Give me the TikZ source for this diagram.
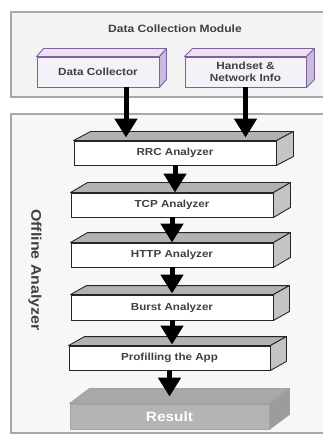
\documentclass[tikz,border=0pt]{standalone}
\usepackage{fontspec}
\newfontfamily\lab{Liberation Sans}[FakeStretch=1.14]
\usetikzlibrary{arrows.meta}
\definecolor{txt}{HTML}{404040}
\definecolor{pborder}{HTML}{7E62A0}
\definecolor{pfront}{HTML}{F5F1F9}
\definecolor{ptop}{HTML}{EAE2F2}
\definecolor{pside}{HTML}{C9BBDC}
\definecolor{gtop}{HTML}{B2B2B2}
\definecolor{gside}{HTML}{C4C4C4}
\definecolor{rfront}{HTML}{B4B4B4}
\definecolor{rtop}{HTML}{A8A8A8}
\definecolor{rside}{HTML}{9C9C9C}
\definecolor{rborder}{HTML}{A2A2A2}
\definecolor{cfill}{HTML}{F3F3F3}
\definecolor{cfillb}{HTML}{F7F7F7}
\definecolor{cborder}{HTML}{A8A8A8}
\newcommand\depthfaces[6]{% node, dx, dy(up), top colour, side colour, border colour
  \draw[line width=0.9pt, draw=#6, fill=#4, line join=round] (#1.north west) -- ++(#2,-#3) -- ([shift={(#2,-#3)}]#1.north east) -- (#1.north east) -- cycle;
  \draw[line width=0.9pt, draw=#6, fill=#5, line join=round] (#1.north east) -- ([shift={(#2,-#3)}]#1.north east) -- ([shift={(#2,-#3)}]#1.south east) -- (#1.south east) -- cycle;}
\begin{document}
\begin{tikzpicture}[x=1pt,y=-1pt,
  container/.style={draw=cborder, line width=1.1pt},
  purplebox/.style={draw=pborder, fill=pfront, line width=0.9pt, text=txt, inner sep=0pt,
    minimum height=30pt, font=\lab\bfseries\fontsize{10.3}{12.5}\selectfont, align=center},
  anabox/.style={draw=black!85, fill=white, line width=0.9pt, text=txt, inner sep=0pt,
    minimum height=24pt, font=\lab\bfseries\fontsize{10.2}{12}\selectfont},
  resbox/.style={draw=rborder, fill=rfront, line width=0.9pt, text=white, inner sep=0pt,
    minimum height=25pt, font=\lab\bfseries\fontsize{13.5}{15}\selectfont},
  flow/.style={line width=5pt, black, -{Triangle[width=22pt,length=19pt]}}]
\useasboundingbox (0,0) rectangle (322,435);
% containers
\draw[container, fill=cfill] (11,12) rectangle (326,97);
\draw[container, fill=cfillb] (11,114) rectangle (326,433);
\node[text=txt, font=\lab\bfseries\fontsize{10.6}{12}\selectfont] (dcm) at (175,29) {Data Collection Module};
\node[text=txt, rotate=-90, font=\lab\bfseries\fontsize{14}{16}\selectfont] (oa) at (35,270) {Offline Analyzer};
% top boxes
\node[purplebox, minimum width=122pt] (dc) at (98,72) {Data Collector};
\depthfaces{dc}{7}{8}{ptop}{pside}{pborder}
\node[purplebox, minimum width=121pt] (hn) at (245.5,72) {Handset \&\\Network Info};
\depthfaces{hn}{8}{8}{ptop}{pside}{pborder}
% analyzers
\node[anabox, minimum width=202pt] (rrc) at (175,153) {RRC Analyzer};
\depthfaces{rrc}{17}{9}{gtop}{gside}{black!85}
\node[anabox, minimum width=202pt] (tcp) at (172,205) {TCP Analyzer};
\depthfaces{tcp}{17}{10}{gtop}{gside}{black!85}
\node[anabox, minimum width=202pt] (http) at (172,255) {HTTP Analyzer};
\depthfaces{http}{17}{10}{gtop}{gside}{black!85}
\node[anabox, minimum width=202pt, minimum height=25pt] (burst) at (172,307.5) {Burst Analyzer};
\depthfaces{burst}{16}{9}{gtop}{gside}{black!85}
\node[anabox, minimum width=201pt] (prof) at (169.5,358) {Profilling the App};
\depthfaces{prof}{16}{9}{gtop}{gside}{black!85}
\node[resbox, minimum width=199pt] (res) at (169.5,416.5) {Result};
\depthfaces{res}{20}{15}{rtop}{rside}{rborder}
% arrows
\draw[flow] ([xshift=28pt]dc.south) -- ([xshift=28pt,yshift=3pt]dc.south |- rrc.north);
\draw[flow] (hn.south) -- ([yshift=3pt]hn.south |- rrc.north);
\draw[flow] (rrc.south) -- (rrc.south |- tcp.north);
\draw[flow] (tcp.south) -- (tcp.south |- http.north);
\draw[flow] (http.south) -- ([yshift=1pt]http.south |- burst.north);
\draw[flow] (burst.south) -- ([yshift=1pt]burst.south |- prof.north);
\draw[flow] (prof.south) -- ([yshift=7pt]prof.south |- res.north);
\end{tikzpicture}
\end{document}
